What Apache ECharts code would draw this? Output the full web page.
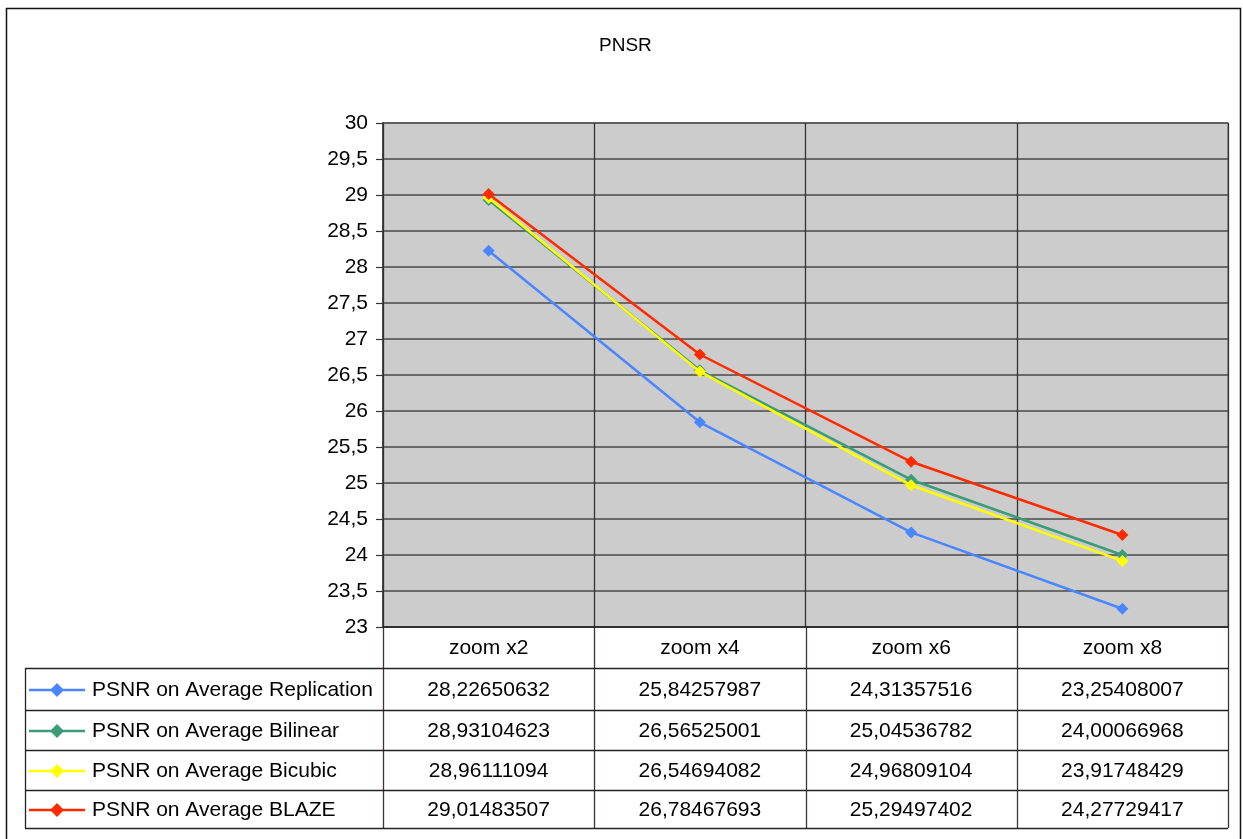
<!DOCTYPE html>
<html>
<head>
<meta charset="utf-8">
<title>PNSR</title>
<script src="https://cdn.jsdelivr.net/npm/echarts@6/dist/echarts.min.js"></script>
<style>
  html, body { margin: 0; padding: 0; background: #ffffff; }
  #chart { width: 1243px; height: 839px; }
</style>
</head>
<body>
<div id="chart"></div>
<script>
// Zoom factors on the category axis
const categories = ['zoom x2', 'zoom x4', 'zoom x6', 'zoom x8'];

// Average PSNR per interpolation method
const replication = [28.22650632, 25.84257987, 24.31357516, 23.25408007];
const bilinear    = [28.93104623, 26.56525001, 25.04536782, 24.00066968];
const bicubic     = [28.96111094, 26.54694082, 24.96809104, 23.91748429];
const blaze       = [29.01483507, 26.78467693, 25.29497402, 24.27729417];

const seriesNames = [
  'PSNR on Average Replication',
  'PSNR on Average Bilinear',
  'PSNR on Average Bicubic',
  'PSNR on Average BLAZE'
];
const seriesValues = [replication, bilinear, bicubic, blaze];
const seriesColors = ['#4a86ff', '#3c9c78', '#ffff00', '#ff2a00'];

// Value axis range
const yMin = 23, yMax = 30, yStep = 0.5;

const FONT = '"Liberation Sans", Arial, sans-serif';
const GRID = { left: 383, top: 123, width: 845, height: 504 };
const HEADER_BOTTOM = 668;
const ROW_EDGES = [668, 710, 750, 790, 828];
const LEGEND_LEFT = 25;
const LINE_COLOR = '#222222';
const TABLE_FONT = '21px ' + FONT;

const fmt = v => v.toFixed(8).replace('.', ',');

const chart = echarts.init(document.getElementById('chart'), null, { renderer: 'canvas' });

function buildTable() {
  const els = [];
  const right = GRID.left + GRID.width;
  const bottomAxis = GRID.top + GRID.height;
  const colW = GRID.width / categories.length;
  const lastRow = ROW_EDGES[ROW_EDGES.length - 1];

  // vertical cell borders under each category band
  for (let i = 0; i <= categories.length; i++) {
    const x = Math.round(GRID.left + i * colW) + 0.5;
    els.push({ type: 'line', shape: { x1: x, y1: bottomAxis, x2: x, y2: lastRow },
      style: { stroke: '#3e3434', lineWidth: 1.3 }, silent: true });
  }
  // left border of legend cells
  els.push({ type: 'line', shape: { x1: LEGEND_LEFT + 0.5, y1: ROW_EDGES[0], x2: LEGEND_LEFT + 0.5, y2: lastRow },
    style: { stroke: LINE_COLOR, lineWidth: 1.3 }, silent: true });
  // horizontal row borders
  ROW_EDGES.forEach(y => {
    els.push({ type: 'line', shape: { x1: LEGEND_LEFT, y1: y + 0.5, x2: right, y2: y + 0.5 },
      style: { stroke: LINE_COLOR, lineWidth: 1.3 }, silent: true });
  });

  // header labels
  categories.forEach((c, i) => {
    els.push({ type: 'text', silent: true, style: {
      text: c, x: GRID.left + (i + 0.5) * colW, y: (bottomAxis + HEADER_BOTTOM) / 2 + 1,
      align: 'center', verticalAlign: 'middle', textAlign: 'center', textVerticalAlign: 'middle',
      font: TABLE_FONT, fill: '#000' } });
  });

  // rows: legend key + values
  seriesNames.forEach((name, r) => {
    const yc = (ROW_EDGES[r] + ROW_EDGES[r + 1]) / 2 + 1;
    const col = seriesColors[r];
    els.push({ type: 'line', silent: true, shape: { x1: 29, y1: yc, x2: 85, y2: yc },
      style: { stroke: col, lineWidth: 2.5 } });
    els.push({ type: 'polygon', silent: true,
      shape: { points: [[57, yc - 7], [64, yc], [57, yc + 7], [50, yc]] },
      style: { fill: col } });
    els.push({ type: 'text', silent: true, style: {
      text: name, x: 92, y: yc,
      align: 'left', verticalAlign: 'middle', textAlign: 'left', textVerticalAlign: 'middle',
      font: TABLE_FONT, fill: '#000' } });
    seriesValues[r].forEach((v, i) => {
      els.push({ type: 'text', silent: true, style: {
        text: fmt(v), x: GRID.left + (i + 0.5) * colW, y: yc,
        align: 'center', verticalAlign: 'middle', textAlign: 'center', textVerticalAlign: 'middle',
        font: TABLE_FONT, fill: '#000' } });
    });
  });

  // outer frame of the chart
  els.push({ type: 'rect', silent: true, shape: { x: 6.5, y: 8.5, width: 1234, height: 850 },
    style: { fill: null, stroke: '#111', lineWidth: 1.5 } });
  return els;
}

const option = {
  animation: false,
  backgroundColor: '#ffffff',
  title: {
    text: 'PNSR', left: 594, top: 31,
    textStyle: { fontFamily: FONT, fontSize: 19, fontWeight: 'normal', color: '#000' }
  },
  grid: {
    left: GRID.left, top: GRID.top, width: GRID.width, height: GRID.height,
    show: true, backgroundColor: '#cccccc', borderColor: '#8a8a8a', borderWidth: 1.5
  },
  xAxis: {
    type: 'category', data: categories, boundaryGap: true,
    axisLine: { show: true, lineStyle: { color: '#222', width: 1.5 } },
    axisTick: { show: false },
    axisLabel: { show: false },
    splitLine: { show: true, lineStyle: { color: '#333', width: 1.3 } }
  },
  yAxis: {
    type: 'value', min: yMin, max: yMax, interval: yStep,
    axisLine: { show: true, lineStyle: { color: '#333', width: 1.5 } },
    axisTick: { show: true, inside: false, length: 7, lineStyle: { color: '#333', width: 1.2 } },
    axisLabel: {
      margin: 15, fontFamily: FONT, fontSize: 21, color: '#000',
      formatter: v => String(v).replace('.', ',')
    },
    splitLine: { show: true, lineStyle: { color: '#4a4a4a', width: 1.5 } }
  },
  series: seriesNames.map((name, i) => ({
    name, type: 'line', data: seriesValues[i],
    symbol: 'diamond', symbolSize: 12, showSymbol: true,
    lineStyle: { color: seriesColors[i], width: 2.5 },
    itemStyle: { color: seriesColors[i] },
    z: 3 + i
  })),
  graphic: { elements: buildTable() }
};

chart.setOption(option);
</script>
</body>
</html>
